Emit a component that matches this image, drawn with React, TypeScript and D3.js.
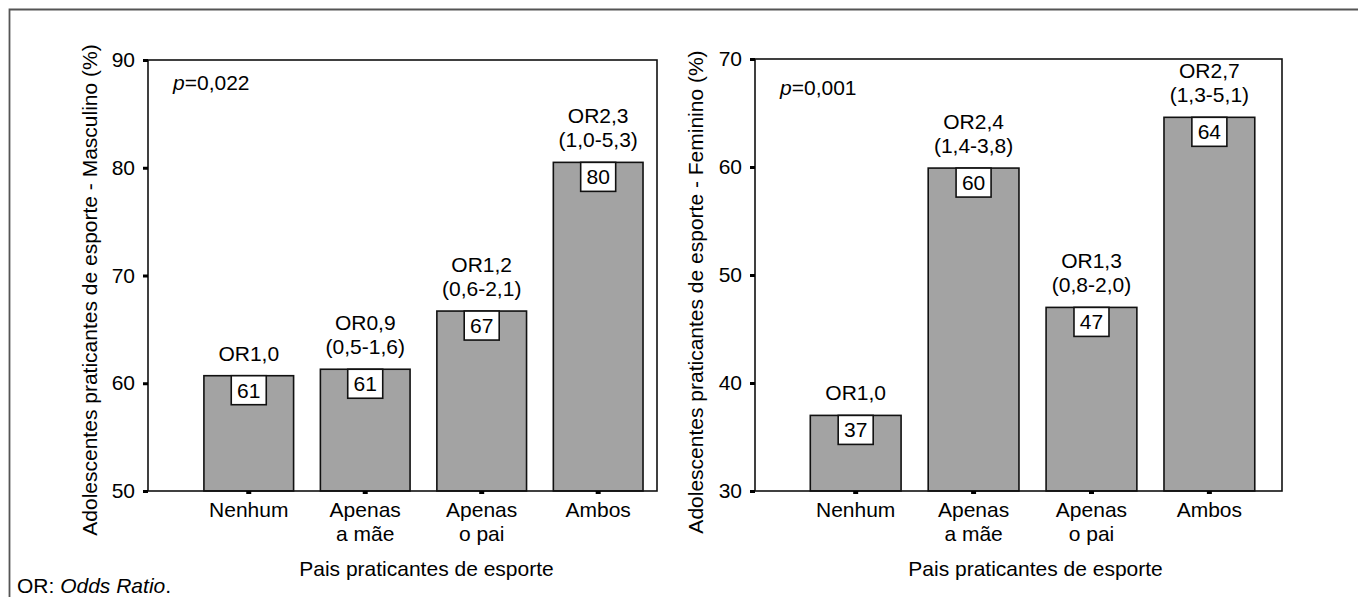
// Adolescentes praticantes de esporte x pais praticantes - two SPSS-style bar charts

import { useEffect, useRef } from "react";
import * as d3 from "d3";

const categories = ["Nenhum", "Apenas a mãe", "Apenas o pai", "Ambos"];
const categoryLines = [["Nenhum"], ["Apenas", "a mãe"], ["Apenas", "o pai"], ["Ambos"]];

const maleValues = [60.7, 61.3, 66.7, 80.5];
const maleLabels = ["61", "61", "67", "80"];
const maleOR = ["OR1,0", "OR0,9", "OR1,2", "OR2,3"];
const maleCI = ["", "(0,5-1,6)", "(0,6-2,1)", "(1,0-5,3)"];
const maleTicks = [50, 60, 70, 80, 90];

const femaleValues = [37.0, 59.9, 47.0, 64.6];
const femaleLabels = ["37", "60", "47", "64"];
const femaleOR = ["OR1,0", "OR2,4", "OR1,3", "OR2,7"];
const femaleCI = ["", "(1,4-3,8)", "(0,8-2,0)", "(1,3-5,1)"];
const femaleTicks = [30, 40, 50, 60, 70];

const WIDTH = 1358;
const HEIGHT = 597;
const FONT = "'Liberation Sans', Arial, Helvetica, sans-serif";
const FS = "21px";

interface PanelSpec {
  values: number[];
  labels: string[];
  or: string[];
  ci: string[];
  ticks: number[];
  pValue: string;
  yTitle: string;
  left: number;
  right: number;
  top: number;
  bottom: number;
  padOuter: number;
  align: number;
  titleX: number;
  titleY: number;
  pY: number;
}

const panels: PanelSpec[] = [
  {
    values: maleValues,
    labels: maleLabels,
    or: maleOR,
    ci: maleCI,
    ticks: maleTicks,
    pValue: "0,022",
    yTitle: "Adolescentes praticantes de esporte - Masculino (%)",
    left: 148,
    right: 657,
    top: 60,
    bottom: 491,
    padOuter: 0.3,
    align: 0.8,
    titleX: 97,
    titleY: 290,
    pY: 90,
  },
  {
    values: femaleValues,
    labels: femaleLabels,
    or: femaleOR,
    ci: femaleCI,
    ticks: femaleTicks,
    pValue: "0,001",
    yTitle: "Adolescentes praticantes de esporte - Feminino (%)",
    left: 755,
    right: 1282,
    top: 59,
    bottom: 491,
    padOuter: 0.35,
    align: 0.67,
    titleX: 703,
    titleY: 292,
    pY: 95,
  },
];

function drawPanel(svg: d3.Selection<SVGSVGElement, unknown, null, undefined>, p: PanelSpec) {
  const g = svg.append("g");

  const x = d3
    .scaleBand<string>()
    .domain(categories)
    .range([p.left, p.right])
    .paddingInner(0.23)
    .paddingOuter(p.padOuter)
    .align(p.align);

  const y = d3
    .scaleLinear()
    .domain([p.ticks[0], p.ticks[p.ticks.length - 1]])
    .range([p.bottom, p.top]);

  // bars
  g.selectAll("rect.bar")
    .data(p.values)
    .enter()
    .append("rect")
    .attr("class", "bar")
    .attr("x", (d, i) => x(categories[i])!)
    .attr("y", (d) => y(d))
    .attr("width", x.bandwidth())
    .attr("height", (d) => p.bottom - y(d))
    .attr("fill", "#a3a3a3")
    .attr("stroke", "#111")
    .attr("stroke-width", 1.6);

  // plot frame
  g.append("rect")
    .attr("x", p.left)
    .attr("y", p.top)
    .attr("width", p.right - p.left)
    .attr("height", p.bottom - p.top)
    .attr("fill", "none")
    .attr("stroke", "#111")
    .attr("stroke-width", 1.6);

  // y axis
  const yAxis = g
    .append("g")
    .attr("transform", `translate(${p.left},0)`)
    .call(d3.axisLeft(y).tickValues(p.ticks).tickSize(5).tickPadding(8).tickFormat(d3.format("d")));
  yAxis.select(".domain").remove();
  yAxis.selectAll("line").attr("stroke", "#000").attr("stroke-width", 3);
  yAxis
    .selectAll("text")
    .attr("fill", "#000")
    .style("font-size", FS)
    .style("font-family", FONT);

  // x axis
  const xAxis = g
    .append("g")
    .attr("transform", `translate(0,${p.bottom})`)
    .call(d3.axisBottom(x).tickSize(3).tickFormat(() => ""));
  xAxis.select(".domain").remove();
  xAxis.selectAll("line").attr("stroke", "#000").attr("stroke-width", 5);

  categories.forEach((c, i) => {
    const t = g
      .append("text")
      .attr("x", x(c)! + x.bandwidth() / 2)
      .attr("y", p.bottom + 26)
      .attr("text-anchor", "middle")
      .style("font-size", FS)
      .style("font-family", FONT);
    categoryLines[i].forEach((line, j) => {
      t.append("tspan")
        .attr("x", x(c)! + x.bandwidth() / 2)
        .attr("dy", j === 0 ? 0 : 24)
        .text(line);
    });
  });

  // value boxes
  p.values.forEach((v, i) => {
    const cx = x(categories[i])! + x.bandwidth() / 2;
    const top = y(v);
    const boxW = 35;
    const boxH = 29;
    g.append("rect")
      .attr("x", cx - boxW / 2)
      .attr("y", top)
      .attr("width", boxW)
      .attr("height", boxH)
      .attr("fill", "#fff")
      .attr("stroke", "#111")
      .attr("stroke-width", 1.6);
    g.append("text")
      .attr("x", cx)
      .attr("y", top + 22)
      .attr("text-anchor", "middle")
      .style("font-size", FS)
      .style("font-family", FONT)
      .text(p.labels[i]);

    // odds ratio annotations
    if (p.ci[i]) {
      g.append("text")
        .attr("x", cx)
        .attr("y", top - 15)
        .attr("text-anchor", "middle")
        .style("font-size", FS)
        .style("font-family", FONT)
        .text(p.ci[i]);
      g.append("text")
        .attr("x", cx)
        .attr("y", top - 39)
        .attr("text-anchor", "middle")
        .style("font-size", FS)
        .style("font-family", FONT)
        .text(p.or[i]);
    } else {
      g.append("text")
        .attr("x", cx)
        .attr("y", top - 15)
        .attr("text-anchor", "middle")
        .style("font-size", FS)
        .style("font-family", FONT)
        .text(p.or[i]);
    }
  });

  // p value
  const pt = g
    .append("text")
    .attr("x", p.left + 25)
    .attr("y", p.pY)
    .style("font-size", FS)
    .style("font-family", FONT);
  pt.append("tspan").style("font-style", "italic").text("p");
  pt.append("tspan").text("=" + p.pValue);

  // axis titles
  g.append("text")
    .attr("transform", `translate(${p.titleX},${p.titleY}) rotate(-90)`)
    .attr("text-anchor", "middle")
    .style("font-size", FS)
    .style("font-family", FONT)
    .text(p.yTitle);

  const barsMid = (x(categories[0])! + x(categories[3])! + x.bandwidth()) / 2;
  g.append("text")
    .attr("x", barsMid + 3)
    .attr("y", 576)
    .attr("text-anchor", "middle")
    .style("font-size", FS)
    .style("font-family", FONT)
    .text("Pais praticantes de esporte");
}

export default function App() {
  const svgRef = useRef<SVGSVGElement>(null);

  useEffect(() => {
    if (!svgRef.current) return;
    const svg = d3.select(svgRef.current);
    svg.selectAll("*").remove();

    // outer frame (top + left only)
    svg
      .append("path")
      .attr("d", `M9.5,${HEIGHT} L9.5,9.5 L${WIDTH},9.5`)
      .attr("fill", "none")
      .attr("stroke", "#555")
      .attr("stroke-width", 1.8);

    panels.forEach((p) => drawPanel(svg, p));

    const note = svg
      .append("text")
      .attr("x", 17)
      .attr("y", 593)
      .style("font-size", FS)
      .style("font-family", FONT);
    note.append("tspan").text("OR: ");
    note.append("tspan").style("font-style", "italic").text("Odds Ratio");
    note.append("tspan").text(".");
  }, []);

  return (
    <svg
      ref={svgRef}
      width={WIDTH}
      height={HEIGHT}
      style={{ position: "absolute", left: 0, top: 0, background: "#fff" }}
    />
  );
}
